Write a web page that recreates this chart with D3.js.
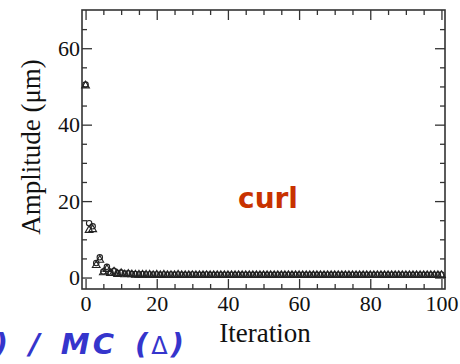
<!DOCTYPE html>
<html><head><meta charset="utf-8">
<script src="https://cdn.jsdelivr.net/npm/d3@7"></script>
<style>body{margin:0;background:#fff;overflow:hidden}</style>
</head><body>
<svg id="c" width="460" height="364"></svg>
<script>
const iterations = d3.range(0, 101);
const dataAmp = [50.5,14.2,13.4,3.8,5.3,1.6,2.8,1.3,1.8,1.1,1.3,1.0,1.1,0.9,0.9,0.8,0.9,0.8,0.8,0.8,
0.8,0.7,0.8,0.7,0.8,0.7,0.8,0.7,0.7,0.7,0.8,0.7,0.7,0.7,0.8,0.7,0.7,0.7,0.7,0.7,
0.7,0.7,0.7,0.7,0.7,0.7,0.7,0.7,0.7,0.7,0.7,0.7,0.7,0.7,0.7,0.7,0.7,0.7,0.7,0.7,
0.7,0.7,0.7,0.7,0.7,0.7,0.7,0.7,0.7,0.7,0.7,0.7,0.7,0.7,0.7,0.7,0.7,0.7,0.7,0.7,
0.7,0.7,0.7,0.7,0.7,0.7,0.7,0.7,0.7,0.7,0.7,0.7,0.7,0.7,0.7,0.7,0.7,0.7,0.7,0.7,0.8];
const mcAmp = [50.2,12.4,12.6,3.2,4.6,1.3,2.2,1.1,1.5,0.9,1.1,0.8,0.9,0.8,0.7,0.7,0.7,0.7,0.7,0.6,
0.7,0.6,0.7,0.6,0.6,0.6,0.7,0.6,0.6,0.6,0.6,0.6,0.6,0.6,0.6,0.6,0.6,0.6,0.6,0.6,
0.6,0.6,0.6,0.6,0.6,0.6,0.6,0.6,0.6,0.6,0.6,0.6,0.6,0.6,0.6,0.6,0.6,0.6,0.6,0.6,
0.6,0.6,0.6,0.6,0.6,0.6,0.6,0.6,0.6,0.6,0.6,0.6,0.6,0.6,0.6,0.6,0.6,0.6,0.6,0.6,
0.6,0.6,0.6,0.6,0.6,0.6,0.6,0.6,0.6,0.6,0.6,0.6,0.6,0.6,0.6,0.6,0.6,0.6,0.6,0.6,0.6];
const xMajorTicks = [0,20,40,60,80,100];
const yMajorTicks = [0,20,40,60];
const xMinorTicks = [5,10,15,25,30,35,45,50,55,65,70,75,85,90,95];
const yMinorTicks = [5,10,15,25,30,35,45,50,55,65];

const svg = d3.select("#c");
const L=82,R=445,T=10,B=289;
const x = d3.scaleLinear().domain([-1,101]).range([L,R]);
const y = d3.scaleLinear().domain([-3,70]).range([B,T]);
const frameCol="#333";

function axis(gen, tr, vals, size, labels){
  const g = svg.append("g").attr("transform",tr)
    .call(gen.tickValues(vals).tickSize(size).tickSizeOuter(0).tickPadding(4)
      .tickFormat(labels? d3.format("d") : ""));
  g.select(".domain").remove();
  g.selectAll("line").attr("stroke",frameCol).attr("stroke-width",1.3);
  g.selectAll("text").attr("font-family","'Liberation Serif',serif").attr("font-size",22).attr("fill","#111");
  return g;
}
const gb = axis(d3.axisBottom(x), `translate(0,${B})`, xMajorTicks, -10, true);
gb.selectAll("text").attr("dy","0.71em").attr("y",6);
axis(d3.axisBottom(x), `translate(0,${B})`, xMinorTicks, -5, false);
axis(d3.axisTop(x), `translate(0,${T})`, xMajorTicks, -10, false);
axis(d3.axisTop(x), `translate(0,${T})`, xMinorTicks, -5, false);
const gl = axis(d3.axisLeft(y), `translate(${L},0)`, yMajorTicks, -10, true);
gl.selectAll("text").attr("x",-2);
axis(d3.axisLeft(y), `translate(${L},0)`, yMinorTicks, -5, false);
axis(d3.axisRight(y), `translate(${R},0)`, yMajorTicks, -10, false);
axis(d3.axisRight(y), `translate(${R},0)`, yMinorTicks, -5, false);

svg.append("rect").attr("x",L).attr("y",T).attr("width",R-L).attr("height",B-T)
  .attr("fill","none").attr("stroke",frameCol).attr("stroke-width",1.6);

const ptCol="#222";
svg.append("g").selectAll("circle").data(iterations).join("circle")
  .attr("cx",d=>x(d)).attr("cy",d=>y(dataAmp[d])).attr("r",2.7)
  .attr("fill","none").attr("stroke",ptCol).attr("stroke-width",1.1);
const tri = d3.symbol().type(d3.symbolTriangle).size(26);
svg.append("g").selectAll("path").data(iterations).join("path")
  .attr("transform",d=>`translate(${x(d)},${y(mcAmp[d])})`).attr("d",tri)
  .attr("fill","none").attr("stroke",ptCol).attr("stroke-width",1.1);

svg.append("text").attr("x",265).attr("y",342).attr("text-anchor","middle")
  .attr("font-family","'Liberation Serif',serif").attr("font-size",27).attr("fill","#111").text("Iteration");
svg.append("text").attr("transform","translate(40,147) rotate(-90)").attr("text-anchor","middle")
  .attr("font-family","'Liberation Serif',serif").attr("font-size",27).attr("fill","#111").text("Amplitude (μm)");

svg.append("text").attr("x",268).attr("y",208).attr("text-anchor","middle")
  .attr("font-family","'DejaVu Sans',sans-serif").attr("font-weight","bold").attr("font-size",28)
  .attr("fill","#c83200").text("curl");

const bt = svg.append("text").attr("x",187).attr("y",354).attr("text-anchor","end")
  .attr("font-family","'DejaVu Sans',sans-serif").attr("font-weight","bold").attr("font-style","italic")
  .attr("font-size",29).attr("letter-spacing",3).attr("word-spacing",5).attr("fill","#3535cc");
bt.append("tspan").text("Data (○) / MC (");
bt.append("tspan").attr("font-weight","normal").attr("font-style","normal").attr("font-size",24).text("Δ");
bt.append("tspan").text(")");
</script>
</body></html>
